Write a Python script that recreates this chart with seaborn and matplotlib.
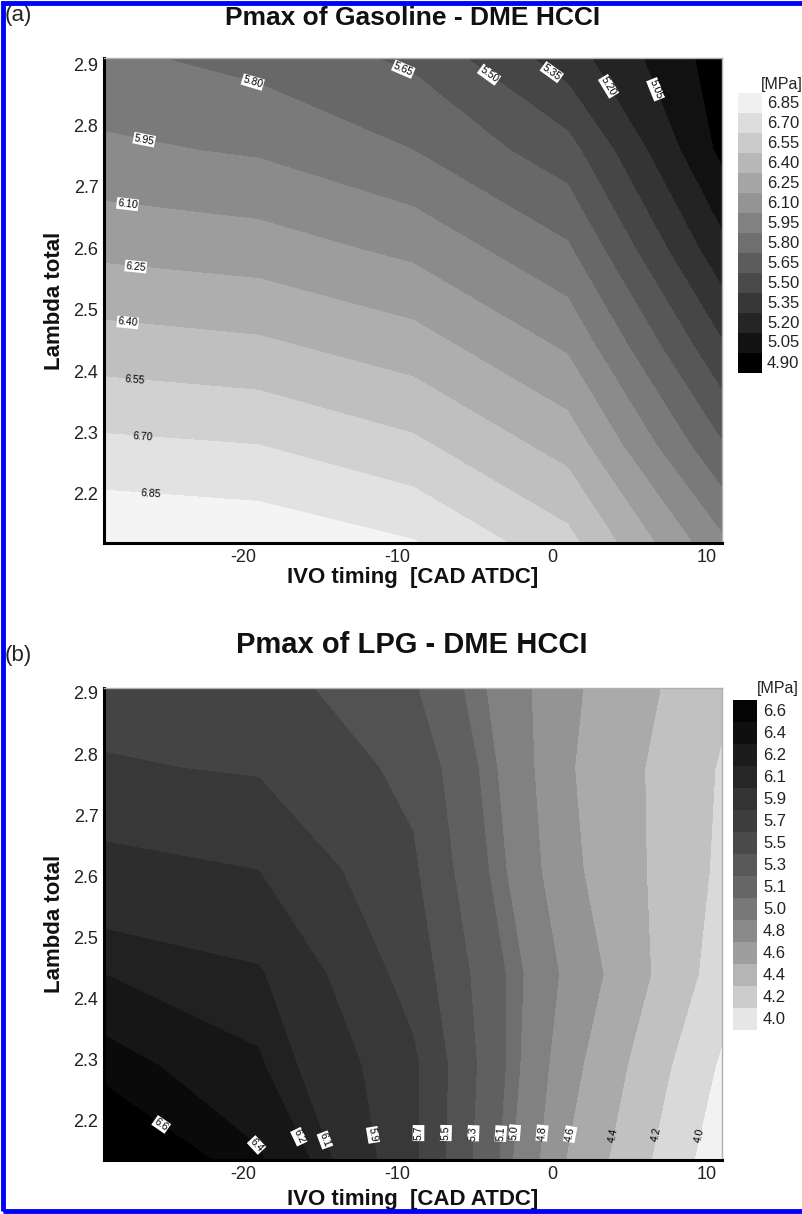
import numpy as np
import matplotlib
matplotlib.use("Agg")
import matplotlib.pyplot as plt
import seaborn as sns
from matplotlib.patches import Rectangle
from matplotlib.ticker import MultipleLocator

# ---------------- data ----------------
ivo = [-29, -19, -9, 1, 11]                       # IVO timing [CAD ATDC]

lam_gas = [2.12, 2.28, 2.44, 2.60, 2.76, 2.91]    # Lambda total (panel a)
pmax_gas = [                                      # rows: lambda, cols: ivo
    [6.99, 6.96, 6.86, 6.60, 5.98],
    [6.73, 6.70, 6.58, 6.34, 5.66],
    [6.47, 6.43, 6.32, 6.08, 5.37],
    [6.21, 6.17, 6.06, 5.82, 5.09],
    [5.98, 5.93, 5.80, 5.56, 4.86],
    [5.83, 5.75, 5.62, 5.27, 4.82],
]
levels_gas = [4.90, 5.05, 5.20, 5.35, 5.50, 5.65, 5.80, 5.95,
              6.10, 6.25, 6.40, 6.55, 6.70, 6.85]
label_pos_gas = [(-19.4, 2.868), (-10.0, 2.87), (-4.3, 2.875), (-0.5, 2.87),
                 (3.4, 2.86), (6.8, 2.86), (-26.5, 2.764), (-27.5, 2.667),
                 (-27.0, 2.556), (-27.5, 2.47), (-27.0, 2.382), (-26.5, 2.293),
                 (-26.0, 2.195)]

lam_lpg = [2.136, 2.29, 2.44, 2.61, 2.777, 2.908]  # Lambda total (panel b)
pmax_lpg = [
    [7.00, 6.43, 5.74, 4.59, 3.87],
    [6.50, 6.22, 5.74, 4.67, 3.97],
    [6.20, 6.12, 5.62, 4.75, 4.10],
    [5.97, 5.90, 5.53, 4.65, 4.16],
    [5.72, 5.68, 5.45, 4.62, 4.18],
    [5.62, 5.60, 5.32, 4.64, 4.24],
]
levels_lpg = [4.0, 4.2, 4.4, 4.6, 4.8, 5.0, 5.1, 5.3, 5.5, 5.7, 5.9,
              6.1, 6.2, 6.4, 6.6]
label_pos_lpg = [(-25.0, 2.205), (-18.5, 2.18), (-15.9, 2.18), (-13.5, 2.18),
                 (-10.9, 2.18), (-8.4, 2.18), (-6.7, 2.18), (-5.3, 2.18),
                 (-3.8, 2.18), (-2.1, 2.18), (-0.6, 2.18), (0.8, 2.18),
                 (3.2, 2.18), (6.5, 2.18), (9.0, 2.18)]

x_ticks = [-20, -10, 0, 10]
y_ticks = [2.2, 2.3, 2.4, 2.5, 2.6, 2.7, 2.8, 2.9]

# ---------------- style ----------------
sns.set_theme(style="ticks")
plt.rcParams['font.family'] = ['Liberation Sans', 'DejaVu Sans']
plt.rcParams['axes.unicode_minus'] = False

W, H = 803, 1214
fig = plt.figure(figsize=(W / 100, H / 100), dpi=100)
fig.patch.set_facecolor('white')


def fbox(l, t, r, b):
    return [l / W, 1 - b / H, (r - l) / W, (b - t) / H]


def style_axes(ax, ylim, xpad):
    ax.set_xlim(-29, 11)
    ax.set_ylim(*ylim)
    ax.set_xticks(x_ticks)
    ax.set_xticklabels([str(v) for v in x_ticks])
    ax.set_yticks(y_ticks)
    ax.set_yticklabels([f"{v:.1f}" for v in y_ticks])
    ax.xaxis.set_minor_locator(MultipleLocator(2))
    ax.yaxis.set_minor_locator(MultipleLocator(0.02))
    ax.tick_params(which='major', direction='in', length=8, width=2,
                   labelsize=13, colors='black', labelcolor='#222222',
                   top=False, right=False, pad=4)
    ax.tick_params(which='minor', direction='in', length=4, width=1,
                   top=False, right=False)
    for s in ['left', 'bottom']:
        ax.spines[s].set_color('black')
        ax.spines[s].set_linewidth(2.2)
    for s in ['top', 'right']:
        ax.spines[s].set_color('#b0b0b0')
        ax.spines[s].set_linewidth(1)
    ax.set_xlabel('IVO timing  [CAD ATDC]', fontsize=16, fontweight='bold',
                  labelpad=xpad, color='#111111')
    ax.set_ylabel('Lambda total', fontsize=16, fontweight='bold', labelpad=6,
                  color='#111111')
    ax.grid(False)


def panel(ax, z, lam, levels, band_grays, fmt, label_pos, box_if):
    X, Y = np.meshgrid(ivo, lam)
    Z = np.array(z)
    cols = [str(g) for g in band_grays]
    cs = ax.contourf(X, Y, Z, levels=levels, colors=cols[1:-1], extend='both')
    cs.cmap.set_under(cols[0])
    cs.cmap.set_over(cols[-1])
    cs.changed()
    lines = ax.contour(X, Y, Z, levels=levels, colors='k', linewidths=0)
    txts = ax.clabel(lines, manual=label_pos, inline=False, fontsize=7.5,
                     fmt=fmt, colors='black')
    for t in txts:
        val = float(t.get_text())
        if box_if(val):
            t.set_bbox(dict(facecolor='white', edgecolor='none', pad=0.6))
    return cs


def legend(l, t, r, b, levels_txt, grays, label_x, unit_y):
    lax = fig.add_axes(fbox(l, t, r, b))
    n = len(levels_txt)
    for i, (txt, g) in enumerate(zip(levels_txt, grays)):
        lax.barh(n - 1 - i, 1, height=1.0, left=0, color=str(g), edgecolor='none')
        fig.text(label_x / W, 1 - (t + (i + 0.5) * (b - t) / n) / H, txt,
                 fontsize=12, ha='left', va='center', color='#222222')
    lax.set_xlim(0, 1)
    lax.set_ylim(-0.5, n - 0.5)
    lax.axis('off')
    fig.text((label_x - 6) / W, 1 - unit_y / H, '[MPa]', fontsize=11.5,
             ha='left', va='center', color='#222222')


# ---------- panel (a) ----------
ax1 = fig.add_axes(fbox(104, 58, 722, 543))
style_axes(ax1, (2.12, 2.91), 1)
gas_grays = np.linspace(0.0, 0.955, 15)
panel(ax1, pmax_gas, lam_gas, levels_gas, gas_grays, '%.2f', label_pos_gas,
      lambda v: v <= 6.41)
fig.text(413 / W, 1 - 18 / H, 'Pmax of Gasoline - DME HCCI', fontsize=19,
         fontweight='bold', ha='center', va='center', color='#111111')
fig.text(5 / W, 1 - 16 / H, '(a)', fontsize=16, ha='left', va='center')
legend(738, 93, 762, 373, [f"{v:.2f}" for v in levels_gas[::-1]],
       np.linspace(0.94, 0.0, 14), 767, 84)

# ---------- panel (b) ----------
ax2 = fig.add_axes(fbox(104, 688, 722, 1160))
style_axes(ax2, (2.136, 2.908), 5)
lpg_band_grays = [0.95, 0.85, 0.755, 0.665, 0.58, 0.505, 0.435, 0.375,
                  0.32, 0.265, 0.22, 0.175, 0.13, 0.085, 0.04, 0.0]
lpg_box_grays = [0.02, 0.06, 0.11, 0.15, 0.20, 0.24, 0.29, 0.35, 0.40,
                 0.47, 0.54, 0.62, 0.71, 0.80, 0.90]
panel(ax2, pmax_lpg, lam_lpg, levels_lpg, lpg_band_grays, '%.1f', label_pos_lpg,
      lambda v: v >= 4.55)
fig.text(412 / W, 1 - 645 / H, 'Pmax of LPG - DME HCCI', fontsize=21,
         fontweight='bold', ha='center', va='center', color='#111111')
fig.text(5 / W, 1 - 656 / H, '(b)', fontsize=16, ha='left', va='center')
legend(733, 700, 757, 1030, [f"{v:.1f}" for v in levels_lpg[::-1]],
       lpg_box_grays, 763, 688)

# blue frame
fig.add_artist(Rectangle((3 / W, 3 / H), 1.2, 1 - 6 / H, transform=fig.transFigure,
                         fill=False, edgecolor='#0000ff', linewidth=3.5))

fig.savefig('out.png', dpi=100)
